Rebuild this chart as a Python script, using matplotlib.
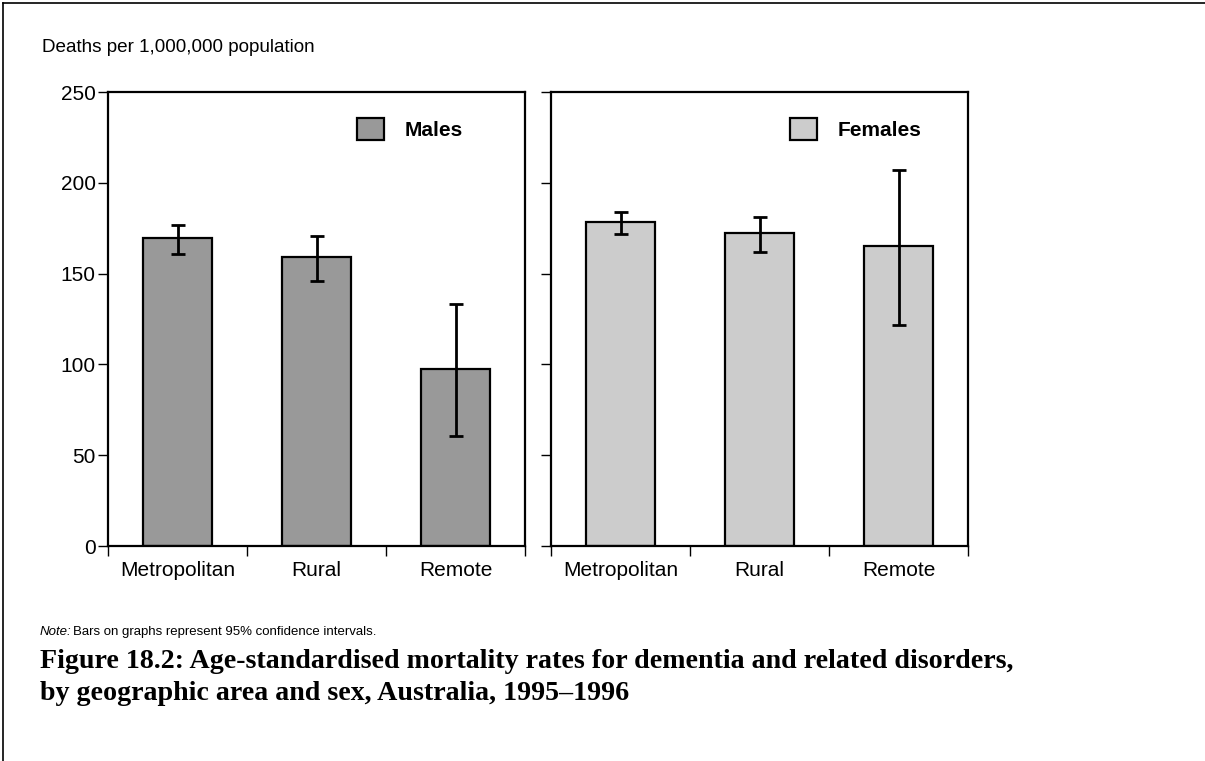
import matplotlib
matplotlib.use('Agg')
import matplotlib.pyplot as plt
from matplotlib.lines import Line2D
from matplotlib.patches import Patch
import numpy as np

plt.rcParams.update({
    'font.family': 'Liberation Sans',
    'font.size': 15,
    'axes.linewidth': 1.6,
    'xtick.major.width': 1.0,
    'ytick.major.width': 1.0,
})

areas = ["Metropolitan", "Rural", "Remote"]
male_rate = [169.4, 159.0, 97.6]
male_low = [161.0, 145.8, 60.6]
male_high = [176.6, 170.9, 133.3]
female_rate = [178.6, 172.2, 165.2]
female_low = [171.6, 161.7, 121.7]
female_high = [184.1, 181.2, 207.0]

W, H = 1205, 761
fig = plt.figure(figsize=(W / 100, H / 100), dpi=100)


def panel(left, rate, low, high, color, label, legend_x):
    ax = fig.add_axes([left / W, 1 - 546 / H, 417 / W, 454 / H])
    x = np.arange(len(areas)) + 0.5
    rate = np.array(rate)
    yerr = [rate - np.array(low), np.array(high) - rate]
    ax.bar(x, rate, 0.5, color=color, edgecolor='black', linewidth=1.6, zorder=2)
    ax.errorbar(x, rate, yerr=yerr, fmt='none', ecolor='black', elinewidth=2,
                capsize=5, capthick=2, zorder=3)
    ax.set_xlim(0, 3)
    ax.set_ylim(0, 250)
    ax.set_yticks([0, 50, 100, 150, 200, 250])
    ax.set_xticks([0, 1, 2, 3])
    ax.set_xticklabels([])
    ax.set_xticks(x, minor=True)
    ax.set_xticklabels(areas, minor=True)
    ax.tick_params(axis='x', which='minor', length=0, pad=11)
    ax.tick_params(axis='x', which='major', length=7, direction='out')
    ax.tick_params(axis='y', length=7, direction='out', pad=2)
    ax.legend(handles=[Patch(facecolor=color, edgecolor='black', linewidth=1.6,
                             label=label)],
              loc='upper left', bbox_to_anchor=((legend_x - left) / 417, 0.985),
              frameon=False, handlelength=1.3, handleheight=1.3,
              handletextpad=1.0, prop={'weight': 'bold', 'size': 15})
    return ax


ax1 = panel(108, male_rate, male_low, male_high, '#999999', 'Males', 338)
ax2 = panel(551, female_rate, female_low, female_high, '#cccccc', 'Females', 771)
ax2.set_yticklabels([])

fig.text(42 / W, 1 - 47 / H, "Deaths per 1,000,000 population", fontsize=13.6,
         va='center', ha='left')

fig.text(40 / W, 1 - 632 / H, "Note:", fontsize=9.5, style='italic',
         va='center', ha='left')
fig.text(73 / W, 1 - 632 / H, "Bars on graphs represent 95% confidence intervals.",
         fontsize=9.5, va='center', ha='left')

fig.text(40 / W, 1 - 661 / H,
         "Figure 18.2: Age-standardised mortality rates for dementia and related disorders,",
         fontsize=20.2, fontweight='bold', family='Liberation Serif',
         va='center', ha='left')
fig.text(40 / W, 1 - 693 / H,
         "by geographic area and sex, Australia, 1995\u20131996",
         fontsize=20.2, fontweight='bold', family='Liberation Serif',
         va='center', ha='left')

# page frame: top and left rules
fig.add_artist(Line2D([3 / W, 1], [1 - 3 / H, 1 - 3 / H], color='black', linewidth=1.2))
fig.add_artist(Line2D([3 / W, 3 / W], [0, 1 - 3 / H], color='black', linewidth=1.2))

fig.savefig('out.png', dpi=100, facecolor='white')
